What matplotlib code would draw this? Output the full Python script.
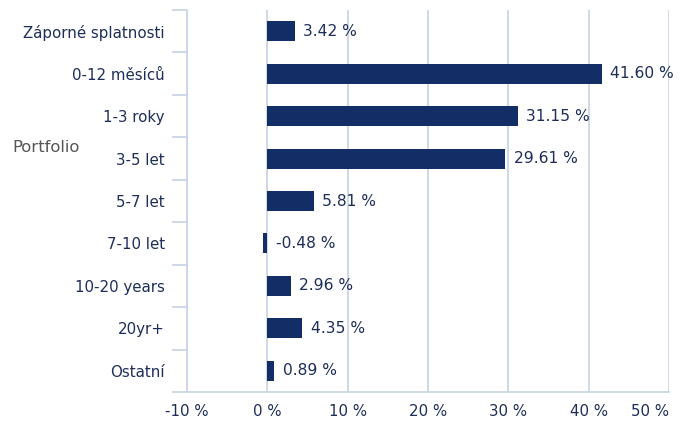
import matplotlib
matplotlib.use("Agg")
import matplotlib.pyplot as plt
import numpy as np
from matplotlib.ticker import FixedLocator

categories = ["Záporné splatnosti", "0-12 měsíců", "1-3 roky", "3-5 let", "5-7 let",
              "7-10 let", "10-20 years", "20yr+", "Ostatní"]
values = [3.42, 41.60, 31.15, 29.61, 5.81, -0.48, 2.96, 4.35, 0.89]
xticks = [-10, 0, 10, 20, 30, 40, 50]
axis_title = "Portfolio"

bar_color = "#132d66"
text_color = "#1d2d5a"
grid_color = "#cbd6e6"
fs = 10.8

plt.rcParams['font.family'] = ['DejaVu Sans']
fig = plt.figure(figsize=(6.87, 4.24), dpi=100)
ax = fig.add_axes([187/687, 1 - 392/424, (669 - 187)/687, (392 - 10)/424])

n = len(categories)
y = np.arange(n)
ax.barh(y, values, height=0.47, color=bar_color, zorder=3)
ax.set_ylim(n - 0.5, -0.5)
ax.set_xlim(-10, 50)

for yi, v in zip(y, values):
    ax.annotate(f"{v:.2f} %", xy=(max(v, 0), yi), xytext=(6, 0), textcoords="offset points",
                va="center", ha="left", fontsize=11.2, color=text_color, zorder=4)

ax.set_xticks(xticks)
ax.set_xticklabels([f"{t} %" for t in xticks], fontsize=fs, color=text_color)
labs = ax.get_xticklabels()
labs[-1].set_ha("right")
ax.tick_params(axis='x', length=0, pad=9)
ax.grid(axis='x', color=grid_color, linewidth=1.3, zorder=0)

ax.set_yticks(y)
ax.set_yticklabels(categories, fontsize=fs, color=text_color)
ax.tick_params(axis='y', which='major', length=0, pad=16)
ax.yaxis.set_minor_locator(FixedLocator(np.arange(-0.5, n, 1.0)))
ax.tick_params(axis='y', which='minor', length=10.5, width=1.3, color=grid_color)

for s in ["top", "right"]:
    ax.spines[s].set_visible(False)
for s in ["left", "bottom"]:
    ax.spines[s].set_color(grid_color)
    ax.spines[s].set_linewidth(1.3)

fig.text(12/687, 1 - 148/424, axis_title, fontsize=11.8, color="#555555", ha="left", va="center")

fig.savefig("out.png", dpi=100)
